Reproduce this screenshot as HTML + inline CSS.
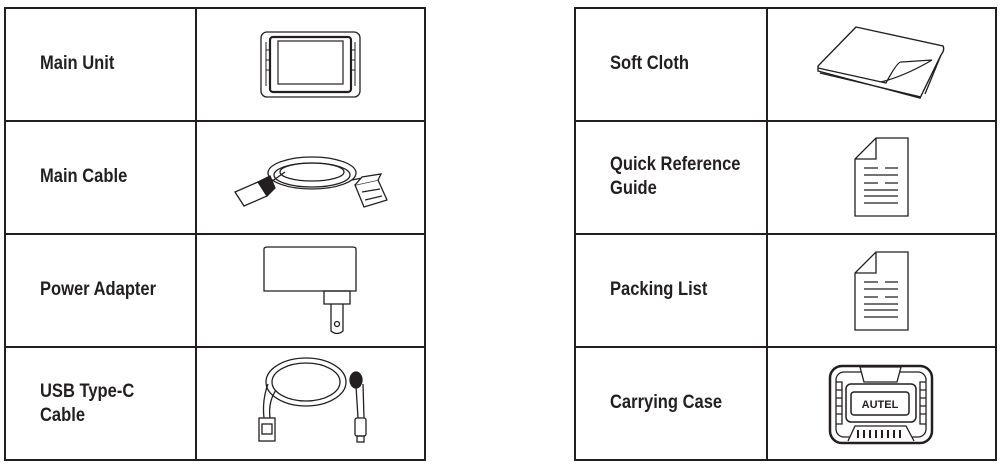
<!DOCTYPE html>
<html><head><meta charset="utf-8"><style>
html,body{margin:0;padding:0;background:#fff;width:1000px;height:468px;overflow:hidden;position:relative}
.t{position:absolute;font-family:"Liberation Sans",sans-serif;font-weight:bold;font-size:19px;color:#231f20;line-height:24px;transform:scaleX(0.87);transform-origin:0 0;white-space:nowrap}
svg{position:absolute;left:0;top:0}
</style></head><body>
<svg width="1000" height="468" viewBox="0 0 1000 468" fill="none" stroke="#231f20" stroke-width="1.3">
<g stroke-width="2">
<rect x="5" y="8" width="420" height="452"/>
<line x1="196" y1="8" x2="196" y2="460"/>
<line x1="5" y1="121" x2="425" y2="121"/><line x1="5" y1="234" x2="425" y2="234"/><line x1="5" y1="347" x2="425" y2="347"/>
<rect x="575" y="8" width="421" height="452"/>
<line x1="767" y1="8" x2="767" y2="460"/>
<line x1="575" y1="121" x2="996" y2="121"/><line x1="575" y1="234" x2="996" y2="234"/><line x1="575" y1="347" x2="996" y2="347"/>
</g>
<!-- main unit -->
<rect x="261" y="32" width="99" height="65" rx="6"/>
<path d="M266 42 V86 M355 42 V86 M266 50 H270 M266 60 H270 M266 70 H270 M351 50 H355 M351 60 H355 M351 70 H355" stroke-width="1"/>
<rect x="270" y="37" width="81" height="55" rx="3" stroke-width="2.2"/>
<rect x="278" y="41" width="65" height="43" stroke-width="1.2"/>
<!-- main cable -->
<ellipse cx="312" cy="173" rx="44" ry="16"/><ellipse cx="312" cy="175" rx="38" ry="12"/><ellipse cx="312" cy="172" rx="32" ry="9"/>
<path d="M268 184 L285 172 M352 180 L362 178"/>
<path d="M235 192 L258 182 L267 196 L244 206 Z" fill="#fff"/><path d="M258 182 L270 176 L275 188 L267 196" fill="#231f20"/>
<path d="M355 185 L378 180 L387 200 L364 207 Z" fill="#fff"/><path d="M355 185 L362 177 L381 174 L378 180" fill="#fff"/>
<path d="M362 192 L380 189 M365 200 L382 196"/>
<!-- power adapter -->
<path d="M264 249 Q264 247 268 247 L352 247 Q356 247 356 249 L356 291 L264 291 Z"/>
<rect x="324" y="291" width="26" height="13"/>
<path d="M331 304 L331 331 Q337 336 343 331 L343 304"/><circle cx="337" cy="324" r="2.5"/>
<!-- usb -->
<ellipse cx="306" cy="382" rx="40" ry="24"/><ellipse cx="306" cy="382" rx="34" ry="19"/>
<path d="M268 384 Q262 400 264 418 M276 390 Q268 402 270 418"/>
<path d="M356 386 L358 418 M363 384 L364 418"/>
<ellipse cx="356" cy="380" rx="6" ry="8" fill="#231f20"/>
<rect x="259" y="418" width="16" height="23" fill="#fff"/><rect x="262" y="424" width="10" height="10"/>
<rect x="355" y="418" width="11" height="18" rx="2" fill="#fff"/><rect x="357" y="436" width="7" height="6"/>
<!-- cloth -->
<path d="M856 27 L943 46 Q945 50 941 55 L920 98 L818 71 L818 66 Z" fill="#fff" stroke-width="1.4"/>
<path d="M818 68 L886 83 Q898 60 902 62 L932 60 Q905 76 881 82"/>
<path d="M941 55 L925 94 M820 73 L921 97"/>
<!-- docs -->
<g id="doc"><path d="M876 138 L908 138 L908 216 L855 216 L855 159 L876 138 Z M855 159 L876 159 L876 138" fill="#fff"/>
<path d="M864 168 H878 M885 168 H898 M864 175 H898 M864 183 H878 M885 183 H898 M864 190 H898 M864 196 H898 M864 203 H898"/></g>
<use href="#doc" transform="translate(0,114)"/>
<!-- case -->
<rect x="830" y="366" width="102" height="77" rx="12" stroke-width="2.5"/>
<rect x="836" y="372" width="90" height="65" rx="8"/>
<path d="M836 382 H842 V424 H836 M926 382 H920 V424 H926 M836 390 H842 M836 398 H842 M836 406 H842 M836 414 H842 M920 390 H926 M920 398 H926 M920 406 H926 M920 414 H926"/>
<rect x="846" y="384" width="70" height="38" rx="5" stroke-width="1.5"/>
<rect x="851" y="392" width="58" height="23" rx="3" stroke-width="1.5"/>
<path d="M860 367 L901 367 L897 382 L864 382 Z" fill="#fff"/>
<path d="M848 441 L855 426 L906 426 L914 441" fill="#fff"/>
<path d="M858 430 V438 M864 430 V438 M870 430 V438 M876 430 V438 M882 430 V438 M888 430 V438 M894 430 V438 M900 430 V438" stroke-width="2"/>
<text x="880" y="408" font-family="Liberation Sans,sans-serif" font-weight="bold" font-size="11" fill="#231f20" stroke="none" text-anchor="middle">AUTEL</text>
</svg>
<div class="t" style="left:40px;top:52px">Main Unit</div>
<div class="t" style="left:40px;top:165px">Main Cable</div>
<div class="t" style="left:40px;top:278px">Power Adapter</div>
<div class="t" style="left:40px;top:380px">USB Type-C<br>Cable</div>
<div class="t" style="left:610px;top:52px">Soft Cloth</div>
<div class="t" style="left:610px;top:153px">Quick Reference<br>Guide</div>
<div class="t" style="left:610px;top:278px">Packing List</div>
<div class="t" style="left:610px;top:391px">Carrying Case</div>
</body></html>
